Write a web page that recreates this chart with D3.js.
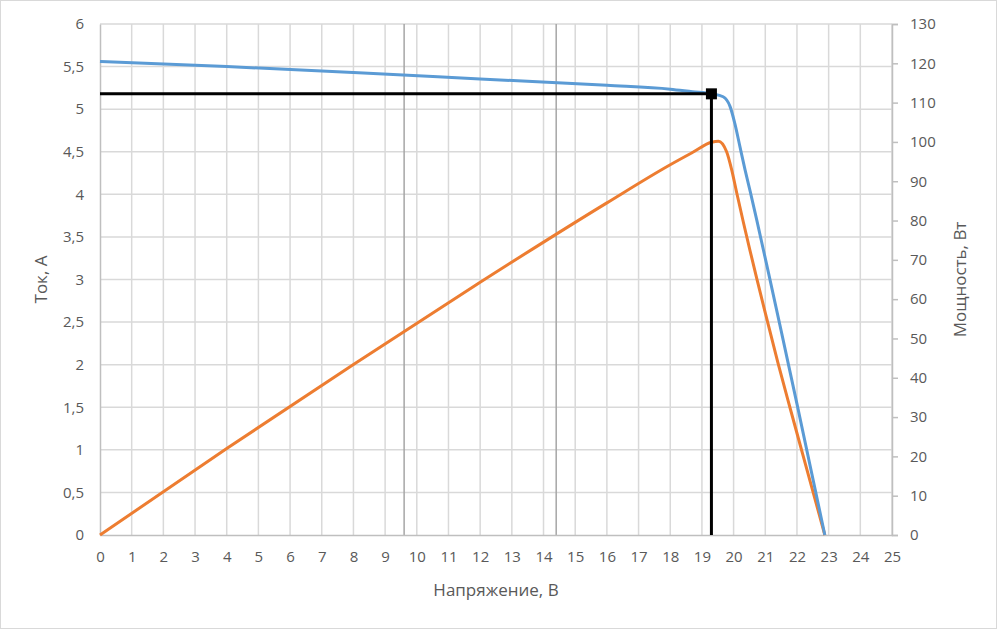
<!DOCTYPE html>
<html>
<head>
<meta charset="utf-8">
<script src="https://cdn.jsdelivr.net/npm/d3@7"></script>
<style>
  body { margin: 0; background: #fff; }
  text { font-family: "Open Sans", "Liberation Sans", sans-serif; fill: #595959; }
</style>
</head>
<body>
<script>
// вольт-амперная характеристика (В, А)
const voltageI = [0, 4, 8, 12, 16, 18, 18.7, 19.3, 19.67, 19.89, 20.04, 20.2, 20.36, 20.52, 20.73, 21.1, 21.5, 22.0, 22.88]
const current  = [5.56, 5.5, 5.43, 5.355, 5.28, 5.235, 5.205, 5.18, 5.146, 5.03, 4.83, 4.56, 4.29, 4.04, 3.7, 3.08, 2.4, 1.54, 0]

// мощность (В, Вт)
const voltageP = [0, 4, 8, 12, 16, 18, 18.7, 19.3, 19.52, 19.78, 19.94, 20.1, 20.31, 20.52, 20.73, 21.0, 21.4, 21.8, 22.2, 22.88]
const power    = [0, 22.0, 43.4, 64.3, 84.5, 94.2, 97.3, 99.9, 100.2, 97.5, 92.9, 87.0, 79.5, 72.3, 65.3, 56.5, 43.8, 31.8, 20.0, 0]

// точка максимальной мощности и вспомогательные линии
const mpp = {v: 19.3, i: 5.18}
const refVoltages = [9.6, 14.4]

const xTicks = d3.range(0, 26, 1)
const yTicks = d3.range(0, 6.01, 0.5)
const y2Ticks = d3.range(0, 131, 10)

const width = 997
const height = 629
const margin = {left: 100, right: 105, top: 24, bottom: 94}

const fmt = d => String(d).replace('.', ',')

const x = d3.scaleLinear().domain([0, 25]).range([margin.left, width - margin.right])
const y = d3.scaleLinear().domain([0, 6]).range([height - margin.bottom, margin.top])
const y2 = d3.scaleLinear().domain([0, 130]).range([height - margin.bottom, margin.top])

const svg = d3.select('body')
    .append('svg')
    .attr('width', width)
    .attr('height', height)

svg.append('rect')
    .attr('x', 0.5).attr('y', 0.5)
    .attr('width', width - 1).attr('height', height - 1)
    .attr('fill', '#fff')
    .attr('stroke', '#d9d9d9')

// сетка
svg.append('g')
    .selectAll('line')
    .data(xTicks.slice(1))
    .enter()
    .append('line')
    .attr('x1', d => x(d)).attr('x2', d => x(d))
    .attr('y1', y(0)).attr('y2', y(6))
    .attr('stroke', '#d9d9d9')
    .attr('stroke-width', 1.5)

svg.append('g')
    .selectAll('line')
    .data(yTicks.slice(1))
    .enter()
    .append('line')
    .attr('x1', x(0)).attr('x2', x(25))
    .attr('y1', d => y(d)).attr('y2', d => y(d))
    .attr('stroke', '#d9d9d9')
    .attr('stroke-width', 1.5)

svg.append('g')
    .selectAll('line')
    .data(refVoltages)
    .enter()
    .append('line')
    .attr('x1', d => x(d)).attr('x2', d => x(d))
    .attr('y1', y(0)).attr('y2', y(6))
    .attr('stroke', '#a6a6a6')
    .attr('stroke-width', 1.5)

// оси
const xAxis = svg.append('g')
    .attr('transform', `translate(0,${y(0)})`)
    .call(d3.axisBottom(x).tickValues(xTicks).tickSize(0).tickPadding(16).tickFormat(fmt))
const yAxis = svg.append('g')
    .attr('transform', `translate(${x(0)},0)`)
    .call(d3.axisLeft(y).tickValues(yTicks).tickSize(0).tickPadding(16).tickFormat(fmt))
const y2Axis = svg.append('g')
    .attr('transform', `translate(${x(25)},0)`)
    .call(d3.axisRight(y2).tickValues(y2Ticks).tickSize(6).tickPadding(12))

for (const a of [xAxis, yAxis, y2Axis]) {
    a.select('.domain').attr('stroke', '#bfbfbf').attr('stroke-width', 1.5)
    a.selectAll('.tick line').attr('stroke', '#bfbfbf').attr('stroke-width', 1.5)
    a.selectAll('text').attr('font-size', 15).attr('fill', '#595959')
        .style('font-family', '"Open Sans", "Liberation Sans", sans-serif')
}

// кривые
const lineI = d3.line()
    .x(d => x(d[0]))
    .y(d => y(d[1]))
    .curve(d3.curveMonotoneX)
const lineP = d3.line()
    .x(d => x(d[0]))
    .y(d => y2(d[1]))
    .curve(d3.curveMonotoneX)

svg.append('path')
    .datum(voltageP.map((v, k) => [v, power[k]]))
    .attr('fill', 'none')
    .attr('stroke', '#ed7d31')
    .attr('stroke-width', 3)
    .attr('d', lineP)

svg.append('path')
    .datum(voltageI.map((v, k) => [v, current[k]]))
    .attr('fill', 'none')
    .attr('stroke', '#5b9bd5')
    .attr('stroke-width', 3)
    .attr('d', lineI)

// точка максимальной мощности
svg.append('path')
    .datum([[0, mpp.i], [mpp.v, mpp.i], [mpp.v, 0]])
    .attr('fill', 'none')
    .attr('stroke', '#000')
    .attr('stroke-width', 3)
    .attr('d', d3.line().x(d => x(d[0])).y(d => y(d[1])))

svg.append('rect')
    .attr('x', x(mpp.v) - 5.5)
    .attr('y', y(mpp.i) - 5.5)
    .attr('width', 11)
    .attr('height', 11)
    .attr('fill', '#000')

// подписи осей
svg.append('text')
    .attr('x', x(12.5))
    .attr('y', 596)
    .attr('text-anchor', 'middle')
    .attr('font-size', 17)
    .text('Напряжение, В')

svg.append('text')
    .attr('transform', `translate(47,${y(3)}) rotate(-90)`)
    .attr('text-anchor', 'middle')
    .attr('font-size', 17)
    .text('Ток, А')

svg.append('text')
    .attr('transform', `translate(966,${y(3)}) rotate(-90)`)
    .attr('text-anchor', 'middle')
    .attr('font-size', 17)
    .text('Мощность, Вт')
</script>
</body>
</html>
